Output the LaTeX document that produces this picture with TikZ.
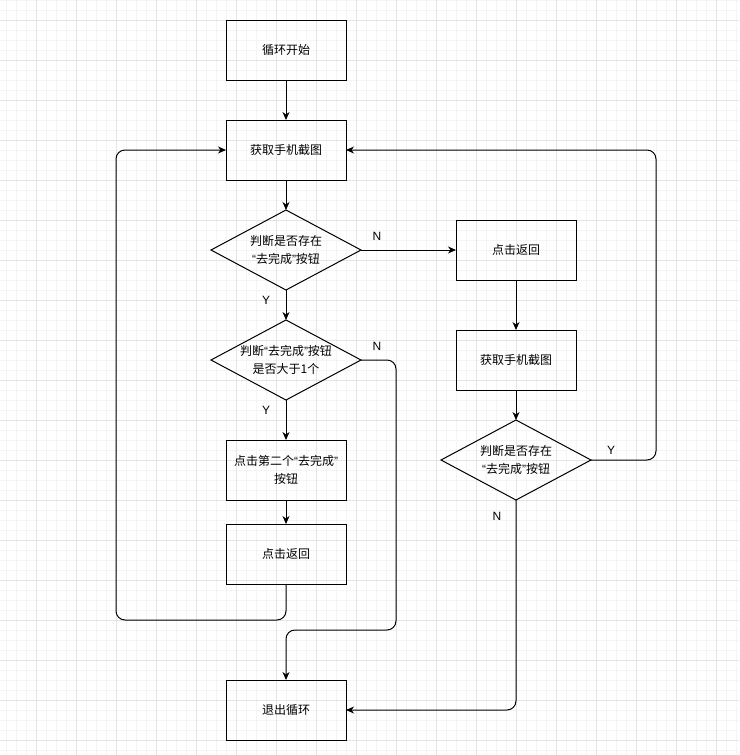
\documentclass[tikz,border=0pt]{standalone}
\usepackage{fontspec}
\setmainfont{Noto Sans CJK SC}
\newfontfamily\latinfont{Liberation Sans}
\usetikzlibrary{shapes.geometric,arrows.meta,positioning}
\definecolor{gridminor}{HTML}{F4F4F4}
\definecolor{gridmajor}{HTML}{E4E4E4}
\newcommand\qo{{\latinfont “}}
\newcommand\qc{{\latinfont ”}}
\tikzset{
  stepbox/.style = {draw, line width=1pt, minimum width=120pt, minimum height=60pt,
                    inner sep=0pt, outer sep=0pt, align=center,
                    font=\fontsize{12pt}{18pt}\selectfont},
  decide/.style  = {draw, diamond, line width=1pt, aspect=1.875, inner sep=0pt,
                    outer sep=0pt, minimum width=150pt, minimum height=80pt, align=center,
                    font=\fontsize{12pt}{18pt}\selectfont},
  flow/.style    = {line width=1pt, rounded corners=9pt, -{Stealth[length=8pt,width=7pt,inset=2.5pt]}},
  lbl/.style     = {inner sep=0pt, font=\latinfont\fontsize{12pt}{14pt}\selectfont}
}
\begin{document}
\begin{tikzpicture}[x=1pt, y=-1pt]
\useasboundingbox (0,0) rectangle (739,755);
% background grid
\foreach \x in {6,16,...,736} \draw[gridminor, line width=0.8pt] (\x,0) -- (\x,755);
\foreach \y in {0,10,...,750} \draw[gridminor, line width=0.8pt] (0,\y) -- (739,\y);
\foreach \x in {36,76,...,736} \draw[gridmajor, line width=0.8pt] (\x,0) -- (\x,755);
\foreach \y in {20,60,...,740} \draw[gridmajor, line width=0.8pt] (0,\y) -- (739,\y);

% left column
\node[stepbox] (start) at (286,50) {循环开始};
\node[stepbox, below=40pt of start] (grab) {获取手机截图};
\node[decide, below=30pt of grab] (hasbtn) {判断是否存在\\\qo 去完成\qc 按钮};
\node[decide, below=30pt of hasbtn] (many) {判断\qo 去完成\qc 按钮\\是否大于1个};
\node[stepbox, below=40pt of many] (second) {点击第二个\qo 去完成\qc\\按钮};
\node[stepbox, below=24pt of second] (back) {点击返回};
\node[stepbox] (quit) at (286,710) {退出循环};

% right column
\node[stepbox] (backR) at (516,250) {点击返回};
\node[stepbox, below=50pt of backR] (grabR) {获取手机截图};
\node[decide, below=30pt of grabR] (found) {判断是否存在\\\qo 去完成\qc 按钮};

% connectors
\draw[flow] (start) -- (grab);
\draw[flow] (grab) -- (hasbtn);
\draw[flow] (hasbtn) -- (many);
\draw[flow] (hasbtn) -- (backR);
\draw[flow] (many) -- (second);
\draw[flow] (second) -- (back);
\draw[flow] (back.south) -- ++(0,36) -| ([xshift=-110pt]grab.west) -- (grab.west);
\draw[flow] (many.east) -| ++(35,270) -| (quit.north);
\draw[flow] (backR) -- (grabR);
\draw[flow] (grabR) -- (found);
\draw[flow] (found.east) -| ([xshift=310pt]grab.east) -- (grab.east);
\draw[flow] (found.south) |- (quit.east);

% labels
\node[lbl] (y1) at ([xshift=-20pt,yshift=-10pt]hasbtn.south) {Y};
\node[lbl] (n1) at ([xshift=16pt,yshift=14pt]hasbtn.east) {N};
\node[lbl] (y2) at ([xshift=-20pt,yshift=-10pt]many.south) {Y};
\node[lbl] (n2) at ([xshift=16pt,yshift=14pt]many.east) {N};
\node[lbl] (y3) at ([xshift=20pt,yshift=10pt]found.east) {Y};
\node[lbl] (n3) at ([xshift=-19pt,yshift=-16pt]found.south) {N};
\end{tikzpicture}
\end{document}
